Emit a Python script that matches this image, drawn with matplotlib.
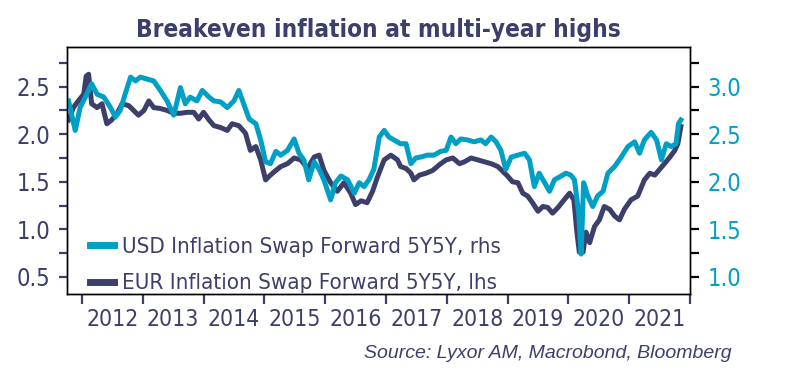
import matplotlib
matplotlib.use('Agg')
import matplotlib.pyplot as plt
from matplotlib import font_manager
from matplotlib.ticker import MultipleLocator, FixedLocator, NullFormatter, FixedFormatter

# USD inflation swap forward 5Y5Y (right axis), decimal years
usd_t = [2011.78, 2011.89, 2011.97, 2012.08, 2012.16, 2012.25, 2012.36, 2012.47, 2012.55, 2012.63,
         2012.71, 2012.80, 2012.88, 2012.96, 2013.07, 2013.18, 2013.29, 2013.40, 2013.51, 2013.62,
         2013.70, 2013.78, 2013.89, 2013.98, 2014.09, 2014.17, 2014.28, 2014.39, 2014.50, 2014.58,
         2014.66, 2014.75, 2014.86, 2014.94, 2015.02, 2015.10, 2015.19, 2015.27, 2015.38, 2015.49,
         2015.57, 2015.65, 2015.73, 2015.82, 2015.90, 2015.98, 2016.09, 2016.17, 2016.26, 2016.37,
         2016.48, 2016.56, 2016.64, 2016.72, 2016.80, 2016.89, 2016.97, 2017.05, 2017.13, 2017.24,
         2017.33, 2017.41, 2017.49, 2017.57, 2017.68, 2017.79, 2017.90, 2017.99, 2018.07, 2018.15,
         2018.23, 2018.34, 2018.45, 2018.56, 2018.64, 2018.73, 2018.81, 2018.89, 2018.97, 2019.06,
         2019.17, 2019.28, 2019.36, 2019.44, 2019.52, 2019.61, 2019.69, 2019.77, 2019.88, 2019.96,
         2020.04, 2020.10, 2020.17, 2020.21, 2020.25, 2020.32, 2020.40, 2020.48, 2020.57, 2020.65,
         2020.76, 2020.87, 2020.98, 2021.09, 2021.17, 2021.25, 2021.36, 2021.45, 2021.53, 2021.61,
         2021.69, 2021.77, 2021.81, 2021.85]
usd_v = [2.85, 2.54, 2.78, 2.92, 3.03, 2.92, 2.89, 2.78, 2.68, 2.75,
         2.92, 3.10, 3.06, 3.10, 3.08, 3.06, 2.96, 2.85, 2.70, 2.99,
         2.82, 2.89, 2.85, 2.96, 2.89, 2.85, 2.84, 2.78, 2.85, 2.96,
         2.82, 2.66, 2.61, 2.44, 2.21, 2.19, 2.32, 2.28, 2.33, 2.45,
         2.30, 2.23, 2.02, 2.21, 2.13, 2.02, 1.81, 1.99, 2.06, 2.02,
         1.88, 1.99, 1.95, 2.02, 2.13, 2.47, 2.54, 2.47, 2.44, 2.40,
         2.40, 2.19, 2.25, 2.26, 2.28, 2.28, 2.32, 2.33, 2.47, 2.40,
         2.45, 2.44, 2.42, 2.44, 2.40, 2.47, 2.42, 2.33, 2.13, 2.26,
         2.28, 2.30, 2.23, 1.95, 2.09, 1.99, 1.90, 2.02, 2.06, 2.09,
         2.07, 2.02, 1.67, 1.24, 1.99, 1.85, 1.74, 1.85, 1.90, 2.09,
         2.16, 2.26, 2.37, 2.42, 2.30, 2.44, 2.52, 2.44, 2.23, 2.40,
         2.37, 2.40, 2.61, 2.65]

# EUR inflation swap forward 5Y5Y (left axis)
eur_t = [2011.78, 2011.86, 2011.94, 2012.03, 2012.07, 2012.11, 2012.16, 2012.25, 2012.33, 2012.41,
         2012.49, 2012.58, 2012.66, 2012.77, 2012.85, 2012.93, 2013.02, 2013.10, 2013.18, 2013.29,
         2013.40, 2013.51, 2013.62, 2013.73, 2013.84, 2013.92, 2014.00, 2014.09, 2014.17, 2014.28,
         2014.39, 2014.47, 2014.58, 2014.69, 2014.77, 2014.86, 2014.94, 2015.02, 2015.10, 2015.19,
         2015.27, 2015.38, 2015.49, 2015.60, 2015.71, 2015.82, 2015.90, 2015.98, 2016.09, 2016.20,
         2016.31, 2016.42, 2016.50, 2016.59, 2016.69, 2016.78, 2016.86, 2016.97, 2017.08, 2017.19,
         2017.24, 2017.33, 2017.41, 2017.46, 2017.55, 2017.66, 2017.77, 2017.88, 2017.99, 2018.10,
         2018.21, 2018.29, 2018.40, 2018.51, 2018.62, 2018.73, 2018.84, 2018.92, 2019.00, 2019.08,
         2019.17, 2019.25, 2019.33, 2019.41, 2019.50, 2019.58, 2019.66, 2019.74, 2019.83, 2019.93,
         2020.02, 2020.09, 2020.14, 2020.18, 2020.24, 2020.29, 2020.35, 2020.43, 2020.51, 2020.59,
         2020.68, 2020.76, 2020.84, 2020.92, 2021.03, 2021.14, 2021.25, 2021.34, 2021.42, 2021.50,
         2021.58, 2021.67, 2021.75, 2021.80, 2021.85]
eur_v = [2.15, 2.28, 2.35, 2.42, 2.61, 2.63, 2.32, 2.28, 2.32, 2.11,
         2.15, 2.22, 2.32, 2.30, 2.25, 2.20, 2.25, 2.35, 2.28, 2.27,
         2.25, 2.22, 2.22, 2.23, 2.23, 2.16, 2.23, 2.15, 2.09, 2.07,
         2.04, 2.11, 2.09, 2.01, 1.83, 1.87, 1.73, 1.52, 1.57, 1.62,
         1.66, 1.69, 1.75, 1.73, 1.64, 1.76, 1.78, 1.62, 1.49, 1.40,
         1.49, 1.38, 1.26, 1.30, 1.28, 1.40, 1.55, 1.73, 1.78, 1.73,
         1.66, 1.64, 1.59, 1.52, 1.57, 1.59, 1.62, 1.68, 1.73, 1.75,
         1.69, 1.71, 1.75, 1.73, 1.71, 1.69, 1.66, 1.61, 1.56, 1.50,
         1.49, 1.38, 1.35, 1.28, 1.19, 1.24, 1.23, 1.17, 1.23, 1.31,
         1.38, 1.31, 0.97, 0.76, 0.76, 0.97, 0.86, 1.03, 1.10, 1.24,
         1.21, 1.14, 1.10, 1.21, 1.31, 1.35, 1.52, 1.59, 1.57, 1.63,
         1.69, 1.76, 1.83, 1.90, 2.08]

years = list(range(2012, 2022))
usd_label = 'USD Inflation Swap Forward 5Y5Y, rhs'
eur_label = 'EUR Inflation Swap Forward 5Y5Y, lhs'

navy = '#3d3f6b'
cyan = '#00a0c6'

# look for a narrow / condensed face, otherwise fall back to Liberation Sans
narrow = None
for f in font_manager.fontManager.ttflist:
    stretch = str(f.stretch).lower()
    if ('narrow' in f.name.lower() or 'condensed' in f.name.lower()
            or 'condensed' in stretch) and f.style == 'normal':
        narrow = f
        break
names = {f.name for f in font_manager.fontManager.ttflist}
regular = 'Liberation Sans' if 'Liberation Sans' in names else 'DejaVu Sans'
if narrow is not None:
    plt.rcParams['font.family'] = narrow.name
    plt.rcParams['font.stretch'] = narrow.stretch
    fs_tick, fs_year, fs_leg, fs_title = 17, 16.5, 16, 17.5
else:
    plt.rcParams['font.family'] = regular
    fs_tick, fs_year, fs_leg, fs_title = 15, 14, 14, 15

fig = plt.figure(figsize=(8, 3.91), dpi=100)
ax = fig.add_axes([0.0834, 0.248, 0.7791, 0.6326])
ax2 = ax.twinx()

l_eur, = ax.plot(eur_t, eur_v, color=navy, lw=3.6)
l_usd, = ax2.plot(usd_t, usd_v, color=cyan, lw=3.6)

ax.set_xlim(2011.75, 2022.0)
ax.set_ylim(0.32, 2.92)
ax2.set_ylim(0.82, 3.42)

# left axis
ax.set_yticks([0.5, 1.0, 1.5, 2.0, 2.5])
ax.set_yticklabels(['0.5', '1.0', '1.5', '2.0', '2.5'])
ax.yaxis.set_minor_locator(MultipleLocator(0.25))
ax.tick_params(axis='y', which='both', direction='out', length=6, width=1.6,
               color=navy, labelcolor=navy, labelsize=fs_tick, pad=6)

# right axis
ax2.set_yticks([1.0, 1.5, 2.0, 2.5, 3.0])
ax2.set_yticklabels(['1.0', '1.5', '2.0', '2.5', '3.0'])
ax2.yaxis.set_minor_locator(MultipleLocator(0.25))
ax2.tick_params(axis='y', which='both', direction='out', length=6.5, width=1.6,
                color='black', labelcolor=cyan, labelsize=fs_tick, pad=6)

# x axis: ticks at year starts, labels mid-year
ax.xaxis.set_major_locator(FixedLocator(years + [2022]))
ax.xaxis.set_major_formatter(NullFormatter())
ax.xaxis.set_minor_locator(FixedLocator([y + 0.5 for y in years]))
ax.xaxis.set_minor_formatter(FixedFormatter([str(y) for y in years]))
ax.tick_params(axis='x', which='major', direction='out', length=7, width=1.6, color=navy)
ax.tick_params(axis='x', which='minor', length=0, labelcolor=navy, labelsize=fs_year, pad=10)

for a in (ax, ax2):
    for s in a.spines.values():
        s.set_color('black')
        s.set_linewidth(1.0)

ax.set_title('Breakeven inflation at multi-year highs', fontsize=fs_title, fontweight='bold',
             color=navy, pad=7)

leg = ax.legend([l_usd, l_eur], [usd_label, eur_label], loc='lower left',
                bbox_to_anchor=(0.037, 0.003), frameon=False, fontsize=fs_leg,
                handlelength=1.1, handletextpad=0.35, labelspacing=0.75,
                borderpad=0, borderaxespad=0)
for t in leg.get_texts():
    t.set_color(navy)
for h in leg.get_lines():
    h.set_linewidth(5)

fig.text(0.915, 0.085, 'Source: Lyxor AM, Macrobond, Bloomberg', ha='right', va='baseline',
         fontsize=14, style='italic', color=navy, family=regular)

fig.savefig('out.png', dpi=100)
